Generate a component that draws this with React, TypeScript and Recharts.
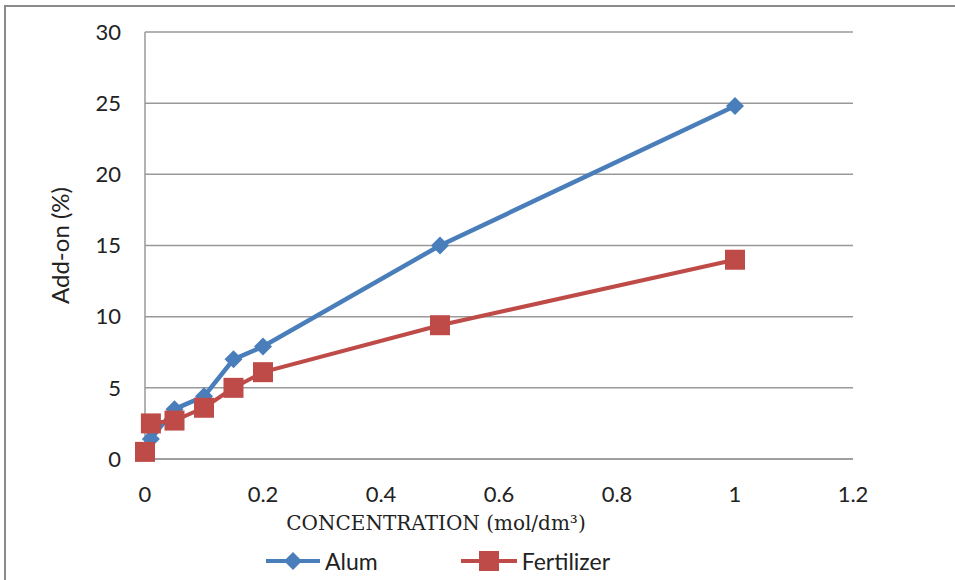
import { CartesianGrid, Line, LineChart, XAxis, YAxis } from "recharts";

const concentration = [0, 0.01, 0.05, 0.1, 0.15, 0.2, 0.5, 1];
const alum = [0.5, 1.4, 3.5, 4.4, 7.0, 7.9, 15.0, 24.8];
const fertilizer = [0.5, 2.5, 2.7, 3.6, 5.0, 6.1, 9.4, 14.0];
const xTicks = [0, 0.2, 0.4, 0.6, 0.8, 1, 1.2];
const yTicks = [0, 5, 10, 15, 20, 25, 30];

const data = concentration.map((c, i) => ({
  c,
  alum: alum[i],
  fertilizer: fertilizer[i],
}));

const BLUE = "#4a7ebb";
const RED = "#be4b48";
const FONT = "Lato, 'Noto Sans', sans-serif";

const Diamond = (props: any) => {
  const { cx, cy } = props;
  if (cx == null || cy == null) return null;
  const r = 9;
  return (
    <polygon
      points={`${cx},${cy - r} ${cx + r},${cy} ${cx},${cy + r} ${cx - r},${cy}`}
      fill={BLUE}
    />
  );
};

const Square = (props: any) => {
  const { cx, cy } = props;
  if (cx == null || cy == null) return null;
  const s = 20;
  return <rect x={cx - s / 2} y={cy - s / 2} width={s} height={s} fill={RED} />;
};

export default function App() {
  return (
    <div
      style={{
        position: "absolute",
        left: 0,
        top: 0,
        width: 955,
        height: 580,
        background: "#fff",
        fontFamily: FONT,
      }}
    >
      <div
        style={{
          position: "absolute",
          left: 4,
          top: 5,
          width: 951,
          height: 575,
          borderTop: "2px solid #8a8a8a",
          borderLeft: "2px solid #8a8a8a",
        }}
      />
      <LineChart
        width={955}
        height={580}
        data={data}
        margin={{ top: 32, right: 102, left: 0, bottom: 91 }}
      >
        <CartesianGrid vertical={false} stroke="#999" strokeWidth={1.5} />
        <XAxis
          dataKey="c"
          type="number"
          domain={[0, 1.2]}
          ticks={xTicks}
          height={30}
          tickLine={false}
          tickSize={0}
          tickMargin={27}
          axisLine={{ stroke: "#999", strokeWidth: 1.5 }}
          tick={{ fill: "#222", fontSize: 22, fontFamily: FONT }}
        />
        <YAxis
          type="number"
          domain={[0, 30]}
          ticks={yTicks}
          width={145}
          tickLine={false}
          tickSize={0}
          tickMargin={24}
          axisLine={{ stroke: "#999", strokeWidth: 1.5 }}
          tick={{ fill: "#222", fontSize: 22, fontFamily: FONT }}
          label={{
            content: (props: any) => {
              const vb = props.viewBox || {};
              const cy = (vb.y ?? 32) + (vb.height ?? 427) / 2;
              return (
                <text
                  x={59}
                  y={cy}
                  transform={`rotate(-90, 59, ${cy})`}
                  textAnchor="middle"
                  dominantBaseline="central"
                  fill="#222"
                  fontSize={24}
                  fontFamily={FONT}
                >
                  Add-on (%)
                </text>
              );
            },
          }}
        />
        <Line
          type="linear"
          dataKey="alum"
          stroke={BLUE}
          strokeWidth={4.5}
          dot={<Diamond />}
          activeDot={false}
          isAnimationActive={false}
        />
        <Line
          type="linear"
          dataKey="fertilizer"
          stroke={RED}
          strokeWidth={4}
          dot={<Square />}
          activeDot={false}
          isAnimationActive={false}
        />
      </LineChart>
      <div
        style={{
          position: "absolute",
          left: 0,
          width: 872,
          top: 511,
          textAlign: "center",
          fontFamily: "'DejaVu Serif', 'Liberation Serif', serif",
          fontSize: 20,
          color: "#222",
        }}
      >
        CONCENTRATION (mol/dm³)
      </div>
      <div
        style={{
          position: "absolute",
          top: 547,
          left: 266,
          display: "flex",
          alignItems: "center",
          fontSize: 23,
          color: "#222",
        }}
      >
        <svg width={54} height={24}>
          <line x1={0} y1={12} x2={54} y2={12} stroke={BLUE} strokeWidth={4} />
          <polygon points="27,3 36,12 27,21 18,12" fill={BLUE} />
        </svg>
        <span style={{ marginLeft: 5 }}>Alum</span>
        <svg width={56} height={24} style={{ marginLeft: 83 }}>
          <line x1={0} y1={12} x2={56} y2={12} stroke={RED} strokeWidth={4} />
          <rect x={18} y={2} width={20} height={20} fill={RED} />
        </svg>
        <span style={{ marginLeft: 5 }}>Fertilizer</span>
      </div>
    </div>
  );
}
